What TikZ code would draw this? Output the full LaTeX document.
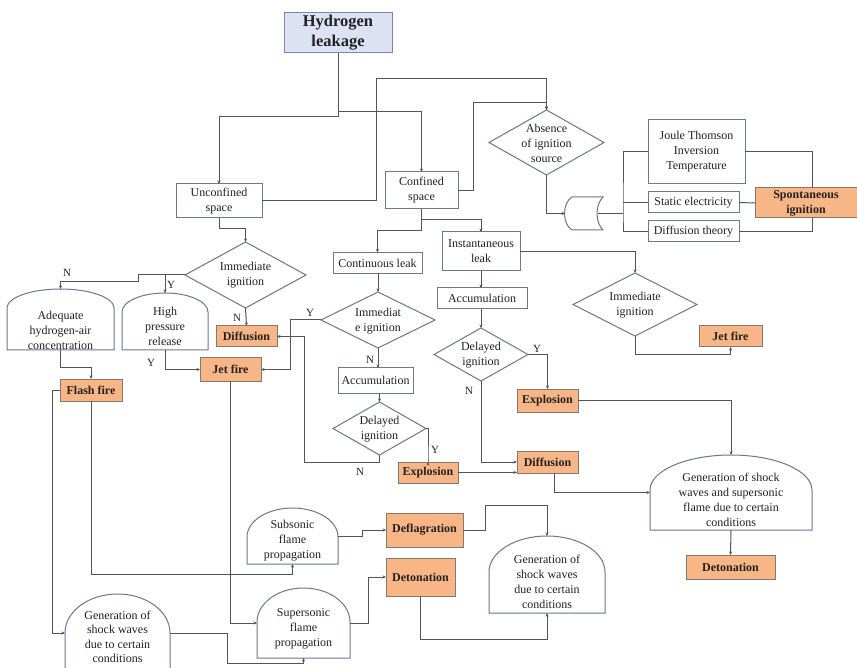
\documentclass[tikz,border=0pt]{standalone}
\usepackage{fontspec}
\setmainfont{Liberation Serif}
\usetikzlibrary{shapes.geometric,calc,arrows.meta}
\definecolor{lnc}{HTML}{555555}
\definecolor{bdc}{HTML}{6E7690}
\definecolor{orf}{HTML}{F8B585}
\definecolor{orb}{HTML}{857870}
\definecolor{hlf}{HTML}{DCE2F4}
\definecolor{hlb}{HTML}{7C87A6}
\definecolor{txc}{HTML}{222222}
\newcommand\DomeOutline[5]{%
 \draw[draw=bdc,line width=1pt,fill=white] (#1,#5) -- (#1,#4)
  .. controls (#1,{#4-0.552*(#4-#3)}) and ({(#1+#2)/2-0.552*(#2-#1)/2},#3) .. ({(#1+#2)/2},#3)
  .. controls ({(#1+#2)/2+0.552*(#2-#1)/2},#3) and (#2,{#4-0.552*(#4-#3)}) .. (#2,#4)
  -- (#2,#5) -- cycle;}
\begin{document}
\begin{tikzpicture}[x=1pt,y=-1pt,
 every node/.style={text=txc},
 ln/.style={draw=lnc, line width=1pt},
 arr/.style={ln,-{Stealth[length=3.5pt,width=3pt]}},
 box/.style={draw=bdc, line width=1pt, fill=white, rectangle, inner sep=0pt, outer sep=0pt, align=center, font=\fontsize{12}{15}\selectfont},
 obox/.style={box, fill=orf, draw=orb, font=\fontsize{12}{15}\selectfont\bfseries},
 dia/.style={diamond, draw=bdc, line width=1pt, fill=white, inner sep=0pt, outer sep=0pt},
 hit/.style={rectangle, inner sep=0pt, outer sep=0pt},
 txt/.style={align=center, inner sep=0pt, font=\fontsize{12}{15}\selectfont},
 yn/.style={font=\fontsize{11}{12}\selectfont, inner sep=0pt}]
\useasboundingbox (0,0) rectangle (857,668);
\fill[white] (0,0) rectangle (857,668);

% ---------- top ----------
\node[box, fill=hlf, draw=hlb, minimum width=108pt, minimum height=40pt, font=\fontsize{16.5}{20}\selectfont\bfseries] (hl) at (338,33) {Hydrogen\\leakage};
\node[box, minimum width=86pt, minimum height=34pt] (unc) at (219,201) {Unconfined\\space};
\node[box, minimum width=73pt, minimum height=37pt] (con) at (421.5,190.5) {Confined\\space};
\node[dia, minimum width=115pt, minimum height=65pt] (abs) at (546.5,142.5) {};
\node[txt] (absT) at (546.5,143) {Absence\\of ignition\\source};

% OR gate
\node[hit, minimum width=33pt, minimum height=33pt] (orgate) at (581.5,213.5) {};
\draw[draw=bdc,line width=1pt,fill=white] (572,197) -- (603,197) .. controls (595,205) and (595,222) .. (603,230) -- (572,230) .. controls (562,224) and (562,203) .. (572,197) -- cycle;
\coordinate (bus) at (623,213.5);

\node[box, minimum width=97pt, minimum height=64pt] (jt) at (696.5,152) {Joule Thomson\\Inversion\\Temperature};
\node[box, minimum width=91pt, minimum height=21pt] (se) at (693.5,202.5) {Static electricity};
\node[box, minimum width=91pt, minimum height=21pt] (dt) at (693.5,231.5) {Diffusion theory};
\node[obox, minimum width=102pt, minimum height=30pt] (sp) at (806,203) {Spontaneous\\ignition};

% ---------- confined branch ----------
\node[box, minimum width=89pt, minimum height=21pt] (cl) at (377.5,263) {Continuous leak};
\node[box, minimum width=78pt, minimum height=39pt] (il) at (481,251.5) {Instantaneous\\leak};
\node[box, minimum width=90pt, minimum height=21pt] (acR) at (482,298.5) {Accumulation};
\node[dia, minimum width=94pt, minimum height=53pt] (delR) at (481,354.5) {};
\node[txt] (delRT) at (481,355) {Delayed\\ignition};
\node[obox, minimum width=61pt, minimum height=23pt] (expR) at (547.5,400.5) {Explosion};
\node[dia, minimum width=124pt, minimum height=63pt] (imR) at (635,304.5) {};
\node[txt] (imRT) at (635,305) {Immediate\\ignition};
\node[obox, minimum width=63pt, minimum height=21pt] (jfR) at (730.5,336.5) {Jet fire};
\node[obox, minimum width=61pt, minimum height=22pt] (difR) at (547.5,462) {Diffusion};
\node[hit, minimum width=162pt, minimum height=75pt] (gsR) at (731,492.5) {};
\DomeOutline{650}{812}{455}{490}{530}
\node[txt] (gsRT) at (731,500) {Generation of shock\\waves and supersonic\\flame due to certain\\conditions};
\node[obox, minimum width=89pt, minimum height=24pt] (detR) at (730.5,567) {Detonation};

\node[dia, minimum width=114pt, minimum height=56pt] (imM) at (378,320) {};
\node[txt] (imMT) at (378,321) {Immediat\\e ignition};
\node[box, minimum width=75pt, minimum height=25pt] (acM) at (375.5,380.5) {Accumulation};
\node[dia, minimum width=93pt, minimum height=53pt] (delM) at (379.5,428.5) {};
\node[txt] (delMT) at (379.5,429) {Delayed\\ignition};
\node[obox, minimum width=60pt, minimum height=21pt] (expM) at (428,472.5) {Explosion};

% ---------- unconfined branch ----------
\node[dia, minimum width=121pt, minimum height=66pt] (imL) at (245.5,275) {};
\node[txt] (imLT) at (245.5,275.5) {Immediate\\ignition};
\node[hit, minimum width=107pt, minimum height=61pt] (adq) at (60.5,319.5) {};
\DomeOutline{7}{114}{289}{308}{350}
\node[txt] (adqT) at (60.5,330) {Adequate\\hydrogen-air\\concentration};
\node[hit, minimum width=86pt, minimum height=57pt] (hpr) at (165,321.5) {};
\DomeOutline{122}{208}{293}{312}{350}
\node[txt] (hprT) at (165,326.5) {High\\pressure\\release};
\node[obox, minimum width=61pt, minimum height=21pt] (difL) at (246.5,336.5) {Diffusion};
\node[obox, minimum width=61pt, minimum height=23pt] (jfL) at (230.5,369.5) {Jet fire};
\node[obox, minimum width=62pt, minimum height=22pt] (ff) at (91,390) {Flash fire};

% ---------- bottom ----------
\node[hit, minimum width=91pt, minimum height=56pt] (sub) at (292.5,536) {};
\DomeOutline{247}{338}{508}{537}{564}
\node[txt] (subT) at (292.5,541) {Subsonic\\flame\\propagation};
\node[obox, minimum width=77pt, minimum height=34pt] (defl) at (424.5,530) {Deflagration};
\node[obox, minimum width=69pt, minimum height=38pt] (detM) at (420.5,577) {Detonation};
\node[hit, minimum width=93pt, minimum height=70pt] (sup) at (303.5,623) {};
\DomeOutline{257}{350}{588}{622}{658}
\node[txt] (supT) at (303.5,629) {Supersonic\\flame\\propagation};
\node[hit, minimum width=116pt, minimum height=77pt] (gsM) at (547,574.5) {};
\DomeOutline{489}{605}{536}{572}{613}
\node[txt] (gsMT) at (547,581.5) {Generation of\\shock waves\\due to certain\\conditions};
\node[hit, minimum width=105pt, minimum height=78pt] (gsL) at (117.5,633) {};
\DomeOutline{65}{170}{594}{633}{672}
\node[txt, font=\fontsize{12}{14.5}\selectfont] (gsLT) at (117.5,637) {Generation of\\shock waves\\due to certain\\conditions};

% ---------- connectors ----------
\coordinate (j1) at (338,117);
\coordinate (j2) at (338,112);
\draw[ln] (hl.south) -- (j1);
\draw[arr] (j1) -| (unc.north);
\draw[arr] (j2) -| (con.north);
\draw[arr] (unc.east) -| (376,79) -| (abs.north);
\draw[arr] (con.east) -| (473,103) -| (abs.north);
\draw[arr] (abs.south) |- (orgate.west);
\draw[ln] (orgate.east) -- (bus);
\draw[ln] (jt.west) -| (bus) |- (dt.west);
\draw[ln] (bus |- se.west) -- (se.west);
\draw[ln] (jt.east) -| ([xshift=6pt]sp.north);
\draw[ln] (se.east) -- (sp.west);
\draw[ln] (dt.east) -| ([xshift=6pt]sp.south);

\draw[arr] (con.south) -- ++(0,22) -| (cl.north);
\draw[arr] ($(con.south)+(0,11)$) -| (il.north);
\draw[arr] (il.south) -- (il.south |- acR.north);
\draw[arr] (acR.south -| delR.north) -- (delR.north);
\draw[arr] (delR.east) -| (expR.north);
\draw[arr] (delR.south) |- (difR.west);
\draw[arr] (expR.east) -| (gsR.north);
\draw[arr] ([xshift=7pt]difR.south) |- (gsR.west);
\draw[arr] (gsR.south) -- (detR.north);
\draw[arr] (il.east) -| (imR.north);
\draw[arr] (imR.south) -- ++(0,19) -| (jfR.south);

\draw[arr] (cl.south -| imM.north) -- (imM.north);
\draw[arr] (imM.south) -- (imM.south |- acM.north);
\draw[arr] (acM.south -| delM.north) -- (delM.north);
\draw[arr] (delM.east) -- ++(2,0) |- (expM.north);
\draw[arr] (delM.south) -- ++(0,7) -| (304,336.5) -- (difL.east);
\draw[arr] (expM.east) -- (expM.east -| difR.west);

\draw[arr] (unc.south) -- ++(0,11) -| (imL.north);
\draw[arr] (imL.west) -| (138,282) -| (adq.north);
\draw[arr] (hpr.north |- imL.west) -- (hpr.north);
\draw[arr] (imL.south) -- (difL.north);
\draw[arr] (hpr.south) |- (jfL.west);
\draw[arr] (imM.west) -| (290,369.5) -- (jfL.east);

\draw[arr] (adq.south) -- ++(0,18) -| (ff.north);
\draw[arr] (ff.west) -- ++(-8,0) |- (gsL.west);
\draw[arr] (ff.south) -- (91,574) -| (sub.south);
\draw[arr] (sub.east) -- ++(24,0) |- (defl.west);
\draw[arr] (defl.east) -- ++(22,0) |- (547,505) -- (gsM.north);
\draw[arr] (detM.south) -- (420.5,639) -| (gsM.south);
\draw[arr] (sup.east) -- ++(18,0) |- (detM.west);
\draw[arr] (jfL.south) |- (sup.west);
\draw[arr] (gsL.east) -- ++(57,0) |- (303.5,663) -- (sup.south);

% ---------- Y / N labels ----------
\node[yn] (n1) at (67,273) {N};
\node[yn] (y1) at (171,285) {Y};
\node[yn] (n2) at (237,318) {N};
\node[yn] (y2) at (151,363) {Y};
\node[yn] (y3) at (310,313) {Y};
\node[yn] (n3) at (370,360) {N};
\node[yn] (y4) at (435,450) {Y};
\node[yn] (n4) at (360,472) {N};
\node[yn] (y5) at (537,349) {Y};
\node[yn] (n5) at (469,391) {N};
\end{tikzpicture}
\end{document}
